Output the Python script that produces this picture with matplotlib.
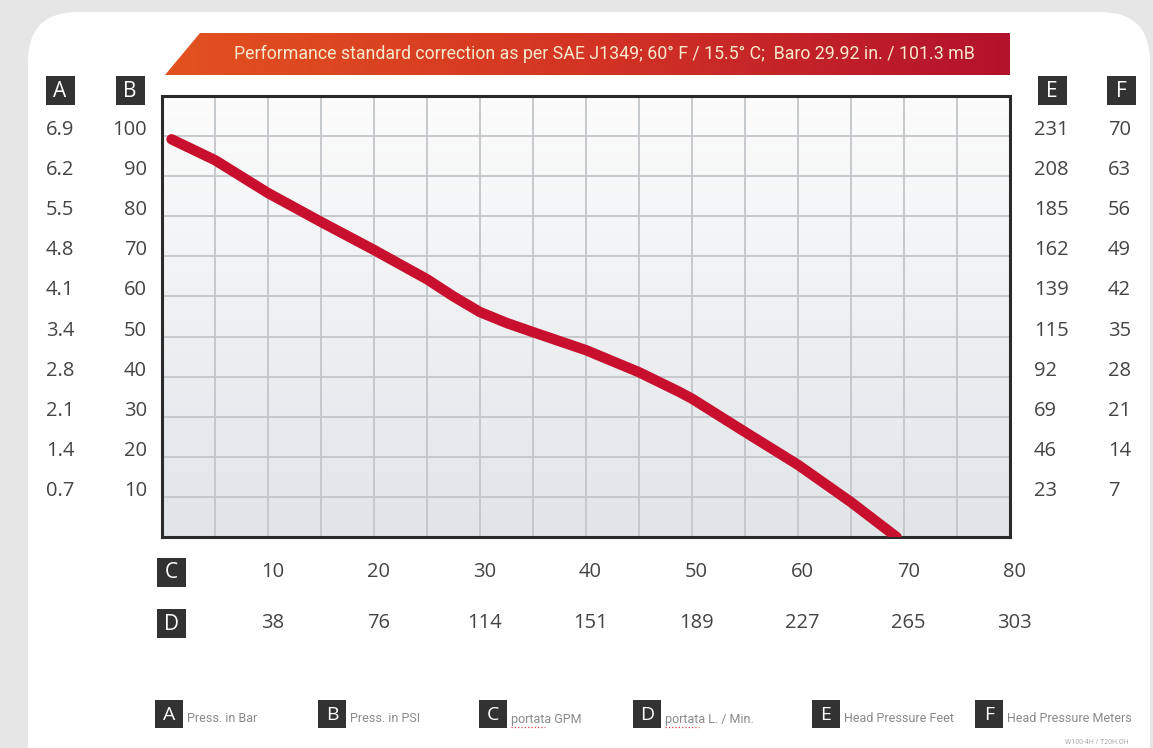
import numpy as np
import matplotlib
matplotlib.use("Agg")
import matplotlib.pyplot as plt
import matplotlib.transforms as mtransforms
from matplotlib.patches import Rectangle, FancyBboxPatch, Polygon
from matplotlib.colors import LinearSegmentedColormap

W, H = 1153, 748

# pump curve: flow (GPM) vs pressure (PSI)
flow_gpm = [0.9, 5, 10, 15, 20, 25, 27.5, 30, 32.5, 35, 40, 45, 48.8, 50, 55, 60, 65, 69.3]
press_psi = [99.2, 94.0, 85.8, 78.6, 71.6, 64.3, 60.0, 56.1, 53.4, 51.1, 46.6, 41.1, 36.2,
             34.5, 26.2, 18.0, 8.7, 0.0]

psi_ticks = [100, 90, 80, 70, 60, 50, 40, 30, 20, 10]
bar_labels = ["6.9", "6.2", "5.5", "4.8", "4.1", "3.4", "2.8", "2.1", "1.4", "0.7"]
feet_labels = ["231", "208", "185", "162", "139", "115", "92", "69", "46", "23"]
meter_labels = ["70", "63", "56", "49", "42", "35", "28", "21", "14", "7"]
gpm_ticks = [10, 20, 30, 40, 50, 60, 70, 80]
lmin_labels = ["38", "76", "114", "151", "189", "227", "265", "303"]

legend_keys = ["A", "B", "C", "D", "E", "F"]
legend_names = ["Press. in Bar", "Press. in PSI", "portata GPM", "portata L. / Min.",
                "Head Pressure Feet", "Head Pressure Meters"]

title = "Performance standard correction as per SAE J1349; 60° F / 15.5° C;  Baro 29.92 in. / 101.3 mB"

plt.rcParams['font.family'] = ['Open Sans', 'DejaVu Sans']
NARROW = ['Roboto', 'DejaVu Sans']
LABEL_C = '#444444'

fig = plt.figure(figsize=(W / 100, H / 100), dpi=100)
fig.patch.set_facecolor('#e6e6e6')

# full-figure axes in pixel units for the decoration
bg = fig.add_axes([0, 0, 1, 1])
bg.axis('off')
bg.add_patch(FancyBboxPatch((28, 12), 1150 - 28, 800, boxstyle="round,pad=0,rounding_size=50",
                            fc='white', ec='none', zorder=0))

# title banner
banner_cmap = LinearSegmentedColormap.from_list('banner', ['#e2521f', '#d33424', '#b3122c'])
poly = Polygon([(165, 75), (200, 33), (1010, 33), (1010, 75)], closed=True, fc='none', ec='none')
bg.add_patch(poly)
im = bg.imshow(np.linspace(0, 1, 256).reshape(1, -1), extent=[165, 1010, 75, 33],
               aspect='auto', cmap=banner_cmap, zorder=1)
im.set_clip_path(poly)
bg.text(604, 54, title, color='#f6e8cc', fontsize=12.8, ha='center', va='center',
        family=NARROW, zorder=2)
bg.set_xlim(0, W)
bg.set_ylim(H, 0)

# main chart
ax = fig.add_axes([162 / W, 1 - 537 / H, (1010 - 162) / W, (537 - 96) / H])
ax.set_xlim(0, 80)
ax.set_ylim(0, 110)
grad_cmap = LinearSegmentedColormap.from_list('plotbg', ['#fcfcfc', '#e1e5e8'])
ax.imshow(np.linspace(0, 1, 256).reshape(-1, 1), extent=[0, 80, 0, 110], origin='upper',
          aspect='auto', cmap=grad_cmap, zorder=0)
ax.set_xticks(np.arange(0, 81, 5))
ax.set_yticks(np.arange(0, 111, 10))
ax.set_axisbelow(True)
ax.grid(True, color='#c3c6c9', lw=1.3)
ax.tick_params(length=0, labelbottom=False, labelleft=False)
for s in ax.spines.values():
    s.set_linewidth(2.2)
    s.set_color('#2a2a2a')
ax.plot(flow_gpm, press_psi, color='#c8102e', lw=7.5, solid_capstyle='round',
        solid_joinstyle='round', zorder=3)


def key_box(x, y, letter, size=29, fs=15):
    bg.add_patch(Rectangle((x - size / 2, y - size / 2), size, size, fc='#323232', ec='none', zorder=3))
    bg.text(x, y + 1, letter, color='white', fontsize=fs, ha='center', va='center', zorder=4)


# side scales (y tied to the PSI axis)
ty = mtransforms.blended_transform_factory(bg.transData, ax.transData)
key_box(60, 90, "A")
key_box(130, 90, "B")
key_box(1052, 90, "E")
key_box(1121, 90, "F")
for v, a, e, f in zip(psi_ticks, bar_labels, feet_labels, meter_labels):
    yv = v + 1.5
    bg.text(60, yv, a, transform=ty, ha='center', va='center', fontsize=14.5, color=LABEL_C)
    bg.text(147, yv, str(v), transform=ty, ha='right', va='center', fontsize=14.5, color=LABEL_C)
    bg.text(1034, yv, e, transform=ty, ha='left', va='center', fontsize=14.5, color=LABEL_C)
    bg.text(1108, yv, f, transform=ty, ha='left', va='center', fontsize=14.5, color=LABEL_C)

# bottom scales (x tied to the GPM axis)
tx = mtransforms.blended_transform_factory(ax.transData, bg.transData)
key_box(171, 572, "C")
key_box(171, 623, "D")
for g, d in zip(gpm_ticks, lmin_labels):
    bg.text(g + 0.4, 572, str(g), transform=tx, ha='center', va='center', fontsize=14.5, color=LABEL_C)
    bg.text(g + 0.4, 623, d, transform=tx, ha='center', va='center', fontsize=14.5, color=LABEL_C)

# legend row
legend_x = [169, 332, 493, 647, 826, 989]
for x, k, name in zip(legend_x, legend_keys, legend_names):
    key_box(x, 714, k, size=28, fs=14)
    bg.text(x + 18, 719, name, ha='left', va='center', fontsize=9, color='#8a8a8a', family=NARROW)
    if name.startswith('portata'):
        bg.plot([x + 18, x + 52], [727, 727], color='#e04040', lw=0.9, ls=':', zorder=4)

bg.text(1097, 742, "W100-4H / T20H.OH", ha='center', va='center', fontsize=5, color='#aaaaaa',
        family=NARROW)

fig.savefig('out.png', dpi=100, facecolor=fig.get_facecolor())
